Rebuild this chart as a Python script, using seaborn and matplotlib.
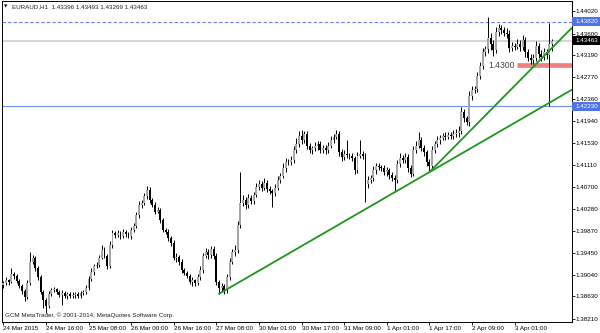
import numpy as np
import pandas as pd
import matplotlib
matplotlib.use("Agg")
import matplotlib.pyplot as plt
from matplotlib.patches import Rectangle
from matplotlib.transforms import blended_transform_factory
import seaborn as sns

# ---------------- data ----------------
title_symbol = "EURAUD,H1"
title_ohlc = ["1.43396", "1.43493", "1.43269", "1.43463"]
first_open = 1.3885
closes = [
    1.3889, 1.3894, 1.3891, 1.3906, 1.3902, 1.3892, 1.3883, 1.3873, 1.3862, 1.3889,
    1.3928, 1.3936, 1.3917, 1.3899, 1.3872, 1.3856, 1.3845, 1.3868, 1.3875, 1.3877,
    1.3872, 1.3866, 1.3870, 1.3864, 1.3868, 1.3864, 1.3866, 1.3868, 1.3864, 1.3870,
    1.3872, 1.3879, 1.3897, 1.3910, 1.3921, 1.3923, 1.3936, 1.3951, 1.3940, 1.3921,
    1.3960, 1.3983, 1.3979, 1.3983, 1.3977, 1.3985, 1.3981, 1.3977, 1.3989, 1.3996,
    1.4017, 1.4036, 1.4040, 1.4053, 1.4064, 1.4045, 1.4036, 1.4023, 1.4026, 1.4007,
    1.3989, 1.3985, 1.3974, 1.3964, 1.3936, 1.3938, 1.3928, 1.3913, 1.3908, 1.3902,
    1.3891, 1.3894, 1.3889, 1.3899, 1.3913, 1.3940, 1.3947, 1.3941, 1.3953, 1.3940,
    1.3891, 1.3879, 1.3883, 1.3875, 1.3899, 1.3928, 1.3947, 1.3951, 1.3998, 1.4040,
    1.4045, 1.4036, 1.4049, 1.4043, 1.4055, 1.4070, 1.4076, 1.4069, 1.4078, 1.4067,
    1.4062, 1.4059, 1.4069, 1.4083, 1.4091, 1.4106, 1.4117, 1.4117, 1.4121, 1.4140,
    1.4151, 1.4166, 1.4159, 1.4170, 1.4148, 1.4140, 1.4144, 1.4148, 1.4151, 1.4140,
    1.4144, 1.4140, 1.4148, 1.4159, 1.4165, 1.4170, 1.4136, 1.4127, 1.4132, 1.4130,
    1.4129, 1.4125, 1.4102, 1.4129, 1.4132, 1.4129, 1.4076, 1.4083, 1.4087, 1.4102,
    1.4110, 1.4108, 1.4106, 1.4098, 1.4102, 1.4093, 1.4087, 1.4083, 1.4113, 1.4125,
    1.4121, 1.4127, 1.4106, 1.4095, 1.4140, 1.4148, 1.4159, 1.4144, 1.4136, 1.4117,
    1.4110, 1.4140, 1.4151, 1.4159, 1.4163, 1.4166, 1.4165, 1.4168, 1.4166, 1.4170,
    1.4172, 1.4176, 1.4212, 1.4200, 1.4193, 1.4242, 1.4253, 1.4255, 1.4280, 1.4299,
    1.4325, 1.4331, 1.4352, 1.4340, 1.4329, 1.4363, 1.4370, 1.4367, 1.4361, 1.4359,
    1.4333, 1.4336, 1.4335, 1.4340, 1.4335, 1.4348, 1.4325, 1.4314, 1.4310, 1.4314,
    1.4336, 1.4321, 1.4316, 1.4325, 1.4319, 1.43396, 1.43463,
]
upper_wick_pips = [
    4, 5, 3, 11, 4, 3, 4, 3, 5, 6,
    19, 6, 4, 3, 5, 4, 4, 6, 5, 4,
    3, 4, 5, 3, 4, 3, 5, 4, 3, 4,
    3, 5, 4, 6, 4, 5, 6, 9, 5, 4,
    8, 6, 4, 5, 3, 6, 4, 3, 5, 6,
    6, 7, 5, 6, 8, 6, 4, 5, 6, 4,
    5, 4, 6, 3, 5, 7, 4, 5, 3, 4,
    4, 5, 3, 6, 7, 6, 8, 5, 6, 5,
    5, 4, 6, 3, 7, 8, 6, 9, 7, 58,
    10, 6, 7, 5, 6, 8, 7, 6, 9, 5,
    5, 4, 6, 8, 6, 9, 7, 5, 8, 7,
    12, 9, 12, 6, 5, 6, 4, 7, 5, 6,
    5, 6, 7, 8, 6, 8, 5, 6, 8, 27,
    5, 6, 4, 7, 27, 6, 5, 7, 6, 8,
    6, 5, 4, 6, 5, 4, 6, 5, 8, 9,
    5, 7, 6, 5, 8, 9, 15, 6, 5, 4,
    5, 7, 6, 8, 5, 6, 7, 5, 6, 7,
    8, 9, 9, 6, 5, 10, 7, 6, 8, 7,
    8, 6, 39, 9, 7, 10, 8, 7, 6, 9,
    7, 8, 6, 9, 7, 10, 6, 5, 7, 8,
    9, 6, 7, 8, 6, 40, 3,
]
lower_wick_pips = [
    5, 4, 6, 3, 5, 4, 3, 5, 8, 4,
    5, 4, 6, 4, 5, 14, 13, 4, 5, 4,
    5, 4, 19, 3, 5, 4, 3, 5, 4, 3,
    4, 5, 3, 4, 6, 4, 5, 3, 5, 6,
    4, 6, 5, 4, 6, 3, 5, 4, 6, 5,
    4, 5, 6, 4, 5, 6, 4, 5, 3, 6,
    5, 4, 6, 5, 4, 8, 5, 6, 5, 4,
    5, 8, 6, 5, 4, 6, 5, 8, 5, 6,
    6, 11, 5, 8, 6, 5, 4, 7, 6, 5,
    6, 7, 5, 6, 5, 4, 6, 7, 5, 6,
    5, 26, 6, 5, 6, 4, 7, 6, 5, 6,
    5, 6, 7, 5, 6, 5, 7, 6, 8, 6,
    5, 7, 6, 5, 6, 4, 7, 8, 6, 5,
    6, 5, 8, 6, 5, 7, 34, 8, 6, 5,
    7, 6, 5, 6, 8, 7, 6, 23, 6, 5,
    6, 5, 8, 7, 5, 6, 5, 6, 8, 7,
    12, 6, 5, 6, 7, 5, 6, 5, 6, 5,
    6, 7, 5, 8, 6, 7, 8, 6, 5, 6,
    6, 8, 7, 11, 11, 6, 7, 8, 6, 7,
    8, 6, 7, 5, 8, 7, 9, 6, 7, 8,
    6, 7, 8, 6, 7, 96, 12.7,
]
time_labels = ["24 Mar 2015", "24 Mar 16:00", "25 Mar 08:00", "26 Mar 00:00",
               "26 Mar 16:00", "27 Mar 08:00", "30 Mar 01:00", "30 Mar 17:00",
               "31 Mar 09:00", "1 Apr 01:00", "1 Apr 17:00", "2 Apr 09:00",
               "3 Apr 01:00"]
bars_per_label = 16
price_ticks = [1.44020, 1.43600, 1.43190, 1.42770, 1.42360, 1.41940, 1.41530,
               1.41110, 1.40700, 1.40280, 1.39870, 1.39450, 1.39040, 1.38630, 1.38210]
bid_price = 1.43463
dashed_level = 1.43820
solid_level = 1.42230
round_level = 1.4300
round_level_start_bar = 193
round_label_bar = 182
trend1_points = [(81, 1.3868), (160, 1.4098)]
trend2_points = [(160, 1.4098), (190, 1.4251)]
watermark = "GCM MetaTrader, \u00a9 2001-2014, MetaQuotes Software Corp."

# ---------------- derived OHLC ----------------
c = np.array(closes)
o = np.array([first_open] + closes[:-1])
hi = np.maximum(o, c) + np.array(upper_wick_pips) * 1e-4
lo = np.minimum(o, c) - np.array(lower_wick_pips) * 1e-4
n = len(c)
x = np.arange(n)
df = pd.DataFrame({"bar": x, "open": o, "high": hi, "low": lo, "close": c})

# ---------------- style ----------------
sns.set_theme(style="white")
plt.rcParams["font.family"] = ["Liberation Sans", "DejaVu Sans"]
FS = 4.5

fig = plt.figure(figsize=(6, 3.33), dpi=100)
ax = fig.add_axes([2 / 600, 11 / 333, 569.5 / 600, 321 / 333])
XL = (-0.49, 213.37)
YL = (1.38148, 1.44215)
ax.set_xlim(*XL)
ax.set_ylim(*YL)
ax.set_facecolor("white")

# horizontal levels
ax.axhline(bid_price, color="#d4d4d4", lw=1.4, zorder=1)
ax.axhline(dashed_level, color="#5f80f0", lw=0.8, ls=(0, (3, 2)), zorder=1)
ax.axhline(solid_level, color="#6f8ff0", lw=0.8, zorder=1)
ax.plot([round_level_start_bar - 0.2, XL[1]], [round_level, round_level],
        color="#f08080", lw=3.4, solid_capstyle="butt", zorder=2)
ax.text(round_label_bar, round_level, "1.4300", fontsize=6.2, color="#444444",
        va="center", ha="left", zorder=6)

# candles
bull = df["close"] >= df["open"]
ax.vlines(df["bar"], df["low"], df["high"], color="black", lw=0.7, zorder=3)
hb = np.maximum((df["close"] - df["open"]).abs(), 0.00003)
ax.bar(df["bar"][bull], hb[bull], bottom=df["open"][bull], width=0.72,
       color="#a6a6a6", linewidth=0, zorder=4)
ax.bar(df["bar"][~bull], hb[~bull], bottom=df["close"][~bull], width=0.72,
       color="black", linewidth=0, zorder=4)

# trend lines (rays to the right edge)
for pts in (trend1_points, trend2_points):
    (x1, y1), (x2, y2) = pts
    slope = (y2 - y1) / (x2 - x1)
    xs = [x1, XL[1]]
    ys = [y1, y1 + slope * (XL[1] - x1)]
    sns.lineplot(x=xs, y=ys, ax=ax, color="#1c961c", lw=1.3, sort=False,
                 estimator=None, zorder=5)

# axes / ticks
for s in ax.spines.values():
    s.set_color("black")
    s.set_linewidth(0.7)
ax.yaxis.tick_right()
ax.set_yticks(price_ticks)
ax.set_yticklabels([f"{p:.5f}" for p in price_ticks])
ax.set_xticks(np.arange(len(time_labels)) * bars_per_label)
ax.set_xticklabels(time_labels, ha="left")
ax.tick_params(axis="y", which="both", right=True, left=False, direction="out",
               length=2.2, width=0.6, pad=1.0, labelsize=FS, colors="black")
ax.tick_params(axis="x", which="both", bottom=True, direction="out",
               length=2.2, width=0.6, pad=0.5, labelsize=FS, colors="black")
for lab in ax.get_xticklabels():
    lab.set_horizontalalignment("left")
ax.set_xlabel("")
ax.set_ylabel("")
ax.grid(False)

# price boxes on the right axis
bt = blended_transform_factory(ax.transAxes, ax.transData)
box_h = 0.0017
for price, col in ((dashed_level, "#4f74e6"), (bid_price, "black"), (solid_level, "#4f74e6")):
    ax.add_patch(Rectangle((1.0015, price - box_h / 2), 0.049, box_h, transform=bt,
                           facecolor=col, edgecolor="none", clip_on=False, zorder=10))
    ax.text(1.0068, price, f"{price:.5f}", transform=bt, fontsize=FS, color="white",
            va="center", ha="left", zorder=11, clip_on=False)

# title and watermark
ax.text(0.004, 0.982, "\u25bc", transform=ax.transAxes, fontsize=3.2, color="black",
        va="center", ha="left", family=["DejaVu Sans"])
ax.text(0.0175, 0.982, f"{title_symbol}  " + " ".join(title_ohlc), transform=ax.transAxes,
        fontsize=FS, color="#202020", va="center", ha="left")
ax.text(0.005, 0.021, watermark, transform=ax.transAxes, fontsize=FS,
        color="#202020", va="center", ha="left")

fig.savefig("out.png", dpi=100)
